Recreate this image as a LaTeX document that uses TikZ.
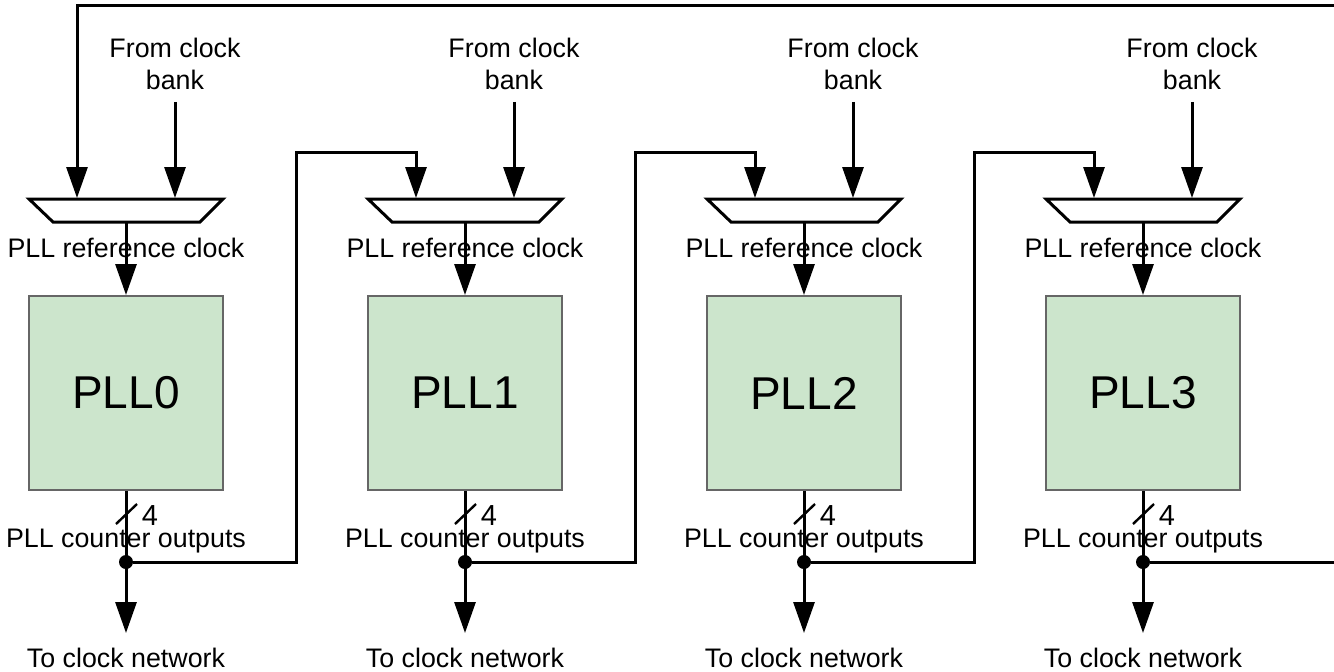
\documentclass[tikz,border=0pt]{standalone}
\usepackage{fontspec}
\setmainfont{Liberation Sans}
\usetikzlibrary{positioning,
        arrows.meta}
\usepackage{xcolor}
\definecolor{pllgreen}{RGB}{204,229,204}

\begin{document}
\begin{tikzpicture}[x=0.5pt,y=-0.5pt,
        wire/.style={line width=1.5pt},
        sig/.style={wire,-{Triangle[length=15.5pt,width=10.5pt]}},
        pll/.style={rectangle,draw=black!60,line width=1pt,fill=pllgreen,minimum width=96.75pt,minimum height=97pt,font=\fontsize{23}{27}\selectfont},
        muxbox/.style={wire,fill=white},
        lbl/.style={font=\fontsize{13.4}{16}\selectfont,inner sep=0pt},
        width/.style={font=\fontsize{14.5}{16}\selectfont,inner sep=0pt},
        bank/.style={lbl,align=center,outer sep=6pt},
        junction/.style={circle,fill,inner sep=0pt,minimum size=7pt}]
            \useasboundingbox (0,0) rectangle (1334,671);

            % PLL0
            \node [pll] (pll0) at (126,393) {PLL0};
            \draw [muxbox] (29,199) -- (223,199) -- (200,222) -- (53,222) -- cycle;
            \coordinate (mux0) at (126,222);
            \node [bank] (fcb0) at (175,64) {From clock\\bank};
            \node [lbl,anchor=base] (ref0) at (126,257) {PLL reference clock};
            \node [lbl,anchor=base] (cnt0) at (126,547) {PLL counter outputs};
            \node [width,anchor=base] (w0) at (150,525) {4};
            \node [junction] (dot0) at (126,562) {};
            \node [lbl,anchor=base] (tcn0) at (126,667) {To clock network};
            \coordinate (in0) at (77,198);
            \coordinate (out0) at (126,633);
            \coordinate (fb0) at (296,152);

            % PLL1
            \node [pll] (pll1) at (465,393) {PLL1};
            \draw [muxbox] (368,199) -- (562,199) -- (539,222) -- (392,222) -- cycle;
            \coordinate (mux1) at (465,222);
            \node [bank] (fcb1) at (514,64) {From clock\\bank};
            \node [lbl,anchor=base] (ref1) at (465,257) {PLL reference clock};
            \node [lbl,anchor=base] (cnt1) at (465,547) {PLL counter outputs};
            \node [width,anchor=base] (w1) at (489,525) {4};
            \node [junction] (dot1) at (465,562) {};
            \node [lbl,anchor=base] (tcn1) at (465,667) {To clock network};
            \coordinate (in1) at (416,198);
            \coordinate (out1) at (465,633);
            \coordinate (fb1) at (635,152);

            % PLL2
            \node [pll] (pll2) at (804,393) {PLL2};
            \draw [muxbox] (707,199) -- (901,199) -- (878,222) -- (731,222) -- cycle;
            \coordinate (mux2) at (804,222);
            \node [bank] (fcb2) at (853,64) {From clock\\bank};
            \node [lbl,anchor=base] (ref2) at (804,257) {PLL reference clock};
            \node [lbl,anchor=base] (cnt2) at (804,547) {PLL counter outputs};
            \node [width,anchor=base] (w2) at (828,525) {4};
            \node [junction] (dot2) at (804,562) {};
            \node [lbl,anchor=base] (tcn2) at (804,667) {To clock network};
            \coordinate (in2) at (755,198);
            \coordinate (out2) at (804,633);
            \coordinate (fb2) at (974,152);

            % PLL3
            \node [pll] (pll3) at (1143,393) {PLL3};
            \draw [muxbox] (1046,199) -- (1240,199) -- (1217,222) -- (1070,222) -- cycle;
            \coordinate (mux3) at (1143,222);
            \node [bank] (fcb3) at (1192,64) {From clock\\bank};
            \node [lbl,anchor=base] (ref3) at (1143,257) {PLL reference clock};
            \node [lbl,anchor=base] (cnt3) at (1143,547) {PLL counter outputs};
            \node [width,anchor=base] (w3) at (1167,525) {4};
            \node [junction] (dot3) at (1143,562) {};
            \node [lbl,anchor=base] (tcn3) at (1143,667) {To clock network};
            \coordinate (in3) at (1094,198);
            \coordinate (out3) at (1143,633);

            \coordinate (edgeT) at (1334,5);
            \coordinate (edgeR) at (1334,562);

            % clock bank inputs
            \draw [sig] (fcb0) -- (fcb0 |- in0);
            \draw [sig] (fcb1) -- (fcb1 |- in1);
            \draw [sig] (fcb2) -- (fcb2 |- in2);
            \draw [sig] (fcb3) -- (fcb3 |- in3);

            % reference clocks and outputs
            \draw [sig] (mux0) -- (pll0);
            \draw [sig] (mux1) -- (pll1);
            \draw [sig] (mux2) -- (pll2);
            \draw [sig] (mux3) -- (pll3);
            \draw [sig] (pll0) -- (out0);
            \draw [sig] (pll1) -- (out1);
            \draw [sig] (pll2) -- (out2);
            \draw [sig] (pll3) -- (out3);
            \draw [line width=1.2pt] (116,524) -- (137,504);
            \draw [line width=1.2pt] (455,524) -- (476,504);
            \draw [line width=1.2pt] (794,524) -- (815,504);
            \draw [line width=1.2pt] (1133,524) -- (1154,504);

            % cascade
            \draw [sig] (dot0) -| (fb0) -| (in1);
            \draw [sig] (dot1) -| (fb1) -| (in2);
            \draw [sig] (dot2) -| (fb2) -| (in3);
            \draw [wire] (dot3) -- (edgeR);
            \draw [sig] (edgeT) -| (in0);
        \end{tikzpicture}
\end{document}
